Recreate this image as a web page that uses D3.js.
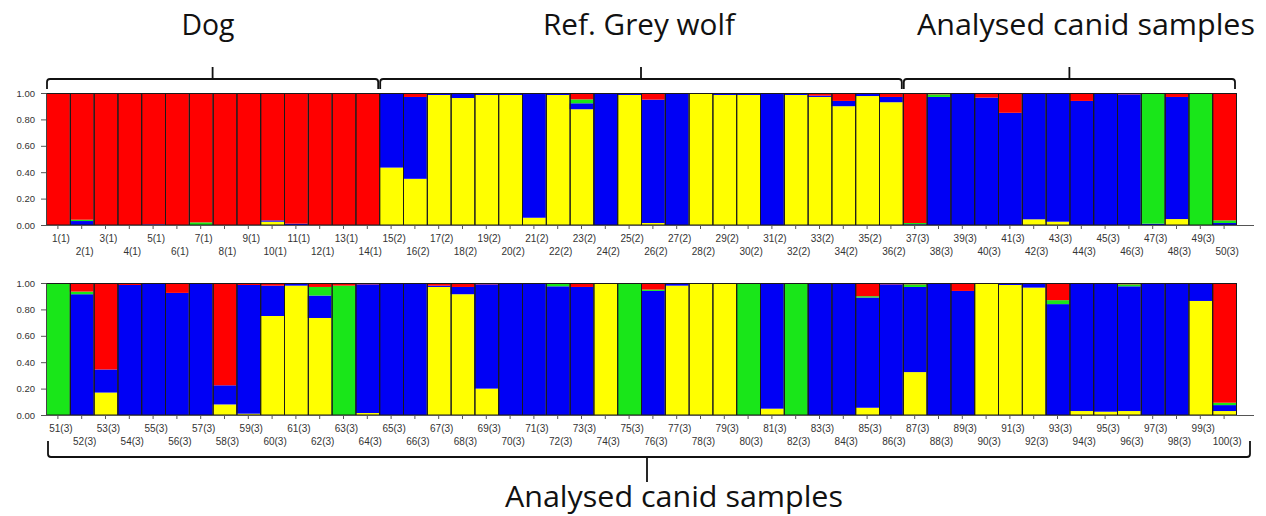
<!DOCTYPE html>
<html>
<head>
<meta charset="utf-8">
<script src="https://cdn.jsdelivr.net/npm/d3@7"></script>
<style>
  html, body { margin: 0; padding: 0; background: #fff; }
  svg { display: block; }
</style>
</head>
<body>
<svg id="chart" width="1266" height="516"></svg>
<script>
// ---- Data (membership coefficients Q for K = 4 clusters) ----
const clusterKeys = ["yellow", "blue", "green", "red"];
const clusterColors = ["#ffff00", "#0000f5", "#19e619", "#ff0000"];
const popIds = [1,1,1,1,1,1,1,1,1,1,1,1,1,1,
  2,2,2,2,2,2,2,2,2,2,2,2,2,2,2,2,2,2,2,2,2,2,
  3,3,3,3,3,3,3,3,3,3,3,3,3,3,
  3,3,3,3,3,3,3,3,3,3,3,3,3,3,3,3,3,3,3,3,3,3,3,3,3,3,3,3,3,3,3,3,3,3,3,3,3,3,3,3,3,3,3,3,3,3,3,3,3,3];
const yellowQ = [0,0,0,0,0,0,0,0,0,.025,0,0,0,0,
  .435,.35,.985,.962,.985,.985,.055,.985,.877,0,.985,.015,0,.995,.985,.985,0,.985,.97,.9,.977,.93,
  0,0,0,0,0,.043,.025,0,0,0,0,.045,0,0,
  0,0,.17,0,0,0,0,.08,.01,.75,.98,.735,0,.015,0,0,.97,.915,.2,0,0,0,0,.995,0,0,.98,.995,.995,0,.048,0,0,0,.055,0,.325,0,0,.995,.985,.965,0,.03,.025,.03,0,0,.864,.03];
const blueQ = [0,.03,0,0,.005,0,0,0,0,.01,.01,0,0,0,
  .56,.62,.015,.035,.015,.01,.945,.015,.045,.995,.015,.935,1,.005,.015,.015,1,.015,.01,.04,.018,.04,
  .005,.97,.995,.965,.85,.955,.975,.94,.995,.99,.01,.925,0,.015,
  0,.915,.175,.985,1,.925,1,.145,.975,.23,.015,.17,0,.975,1,1,.01,.055,.79,1,1,.975,.97,.005,0,.94,.015,.005,.005,0,.952,0,1,1,.835,.99,.645,.995,.94,.005,.015,.035,.84,.97,.975,.945,1,.995,.136,.045];
const greenQ = [0,.01,0,0,0,0,.02,0,0,0,0,0,0,0,
  0,0,0,0,0,0,0,0,.03,0,0,0,0,0,0,0,0,0,0,0,0,0,
  .01,.02,0,0,0,0,0,0,0,0,.99,0,.995,.02,
  1,.02,0,0,0,0,0,0,0,0,0,.065,.98,0,0,0,0,0,0,0,0,.025,0,0,1,.01,0,0,0,1,0,1,0,0,.01,0,.02,0,0,0,0,0,.03,0,0,.015,0,0,0,.018];
const redQ = [1,.96,1,1,.995,1,.98,1,1,.965,.99,1,1,1,
  .005,.03,0,.003,0,.005,0,0,.048,.005,0,.05,0,0,0,0,0,0,.02,.06,.005,.03,
  .985,.01,.005,.035,.15,.002,0,.06,.005,.01,0,.03,.005,.965,
  0,.065,.655,.015,0,.075,0,.775,.015,.02,.005,.03,.02,.01,0,0,.02,.03,.01,0,0,0,.03,0,0,.05,.005,0,0,0,0,0,0,0,.1,.01,.01,.005,.06,0,0,0,.13,0,0,.01,0,.005,0,.907];
const yTicks = [0, 0.2, 0.4, 0.6, 0.8, 1.0];
const topGroups = [
  {name: "Dog", from: 0, to: 13},
  {name: "Ref. Grey wolf", from: 14, to: 35},
  {name: "Analysed canid samples", from: 36, to: 49}
];
const bottomGroupName = "Analysed canid samples";

// ---- Build table ----
const samples = popIds.map((p, i) => ({
  label: `${i + 1}(${p})`,
  yellow: yellowQ[i], blue: blueQ[i], green: greenQ[i], red: redQ[i]
}));

const svg = d3.select("#chart");
const color = d3.scaleOrdinal().domain(clusterKeys).range(clusterColors);
const stack = d3.stack().keys(clusterKeys).offset(d3.stackOffsetExpand);

const panels = [
  {rows: samples.slice(0, 50), y0: 225, y1: 93},
  {rows: samples.slice(50, 100), y0: 415, y1: 283}
];

const x = d3.scaleBand().domain(d3.range(50)).range([46, 1236]).paddingInner(0).paddingOuter(0);

panels.forEach(panel => {
  const y = d3.scaleLinear().domain([0, 1]).range([panel.y0, panel.y1]);
  const g = svg.append("g");
  const series = stack(panel.rows);

  g.selectAll("g.layer").data(series).join("g")
    .attr("class", "layer")
    .attr("fill", d => color(d.key))
    .selectAll("rect").data(d => d).join("rect")
      .attr("x", (d, i) => x(i))
      .attr("y", d => y(d[1]))
      .attr("width", x.bandwidth())
      .attr("height", d => Math.max(0, y(d[0]) - y(d[1])));

  // bar outlines
  g.selectAll("rect.outline").data(panel.rows).join("rect")
    .attr("class", "outline")
    .attr("x", (d, i) => x(i) + 0.5)
    .attr("y", y(1) + 0.5)
    .attr("width", x.bandwidth())
    .attr("height", y(0) - y(1) - 0.5)
    .attr("fill", "none")
    .attr("stroke", "#1a1a1a")
    .attr("stroke-width", 1);

  // y axis
  const yAxis = d3.axisLeft(y).tickValues(yTicks).tickFormat(d3.format(".2f")).tickSize(5).tickPadding(6);
  const ya = g.append("g").attr("transform", "translate(46,0)").call(yAxis);
  ya.select(".domain").attr("stroke", "#444");
  ya.selectAll(".tick line").attr("stroke", "#555");
  ya.selectAll("text").attr("font-family", "Liberation Sans, Arial, sans-serif").attr("font-size", 9.5).attr("fill", "#333");

  // x baseline
  g.append("line").attr("x1", 46).attr("x2", 1254).attr("y1", panel.y0 + 0.5).attr("y2", panel.y0 + 0.5)
    .attr("stroke", "#555").attr("stroke-width", 1.2);

  // x ticks
  g.selectAll("line.xt").data(panel.rows).join("line")
    .attr("class", "xt")
    .attr("x1", (d, i) => x(i) + x.bandwidth() / 2)
    .attr("x2", (d, i) => x(i) + x.bandwidth() / 2)
    .attr("y1", panel.y0).attr("y2", panel.y0 + 4)
    .attr("stroke", "#555");

  // x labels (staggered)
  g.selectAll("text.xl").data(panel.rows).join("text")
    .attr("class", "xl")
    .attr("x", (d, i) => x(i) + x.bandwidth() / 2 + 3)
    .attr("y", (d, i) => panel.y0 + (i % 2 === 0 ? 17 : 30))
    .attr("text-anchor", "middle")
    .attr("font-family", "Liberation Sans, Arial, sans-serif")
    .attr("font-size", 10)
    .attr("fill", "#333")
    .text(d => d.label);
});

// ---- Brackets and group titles ----
const titleFont = "'Open Sans', 'Noto Sans', sans-serif";
const titleCenters = [208, 639, 1086];
const titleWidths = [53, 192, 338];
topGroups.forEach((gr, k) => {
  const xa = x(gr.from) + 1, xb = x(gr.to) + x.bandwidth() - 1;
  const xc = (xa + xb) / 2;
  const yb = 79;
  svg.append("path")
    .attr("d", `M${xa},${yb + 10} L${xa},${yb + 3} Q${xa},${yb} ${xa + 3},${yb} L${xb - 3},${yb} Q${xb},${yb} ${xb},${yb + 3} L${xb},${yb + 10} M${xc},${yb} L${xc},${yb - 12}`)
    .attr("fill", "none").attr("stroke", "#111").attr("stroke-width", 1.8);
  svg.append("text")
    .attr("x", titleCenters[k]).attr("y", 35)
    .attr("text-anchor", "middle")
    .attr("font-family", titleFont)
    .attr("font-size", 29)
    .attr("textLength", titleWidths[k])
    .attr("lengthAdjust", "spacingAndGlyphs")
    .attr("fill", "#111")
    .text(gr.name);
});

{
  const xa = 48, xb = 1250, xc = 647, yb = 457;
  svg.append("path")
    .attr("d", `M${xa},${yb - 16} L${xa},${yb - 3} Q${xa},${yb} ${xa + 3},${yb} L${xb - 3},${yb} Q${xb},${yb} ${xb},${yb - 3} L${xb},${yb - 16} M${xc},${yb} L${xc},${yb + 25}`)
    .attr("fill", "none").attr("stroke", "#111").attr("stroke-width", 1.8);
  svg.append("text")
    .attr("x", 674).attr("y", 507)
    .attr("text-anchor", "middle")
    .attr("font-family", titleFont)
    .attr("font-size", 29)
    .attr("textLength", 338)
    .attr("lengthAdjust", "spacingAndGlyphs")
    .attr("fill", "#111")
    .text(bottomGroupName);
}
</script>
</body>
</html>
